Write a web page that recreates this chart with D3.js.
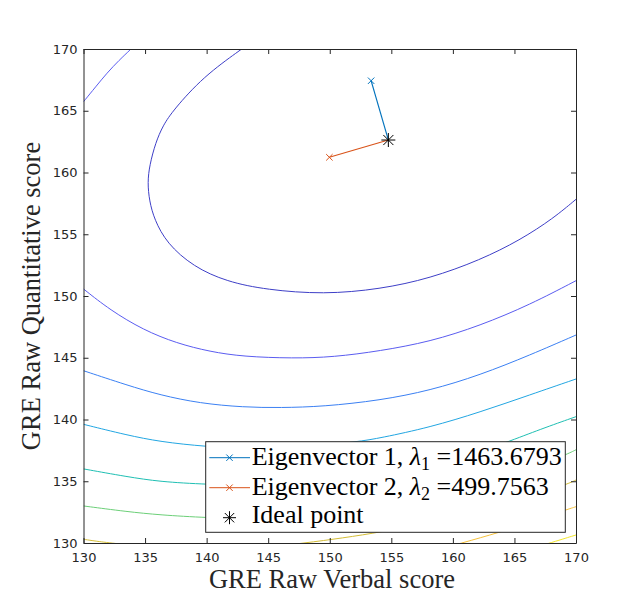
<!DOCTYPE html>
<html>
<head>
<meta charset="utf-8">
<script src="https://cdn.jsdelivr.net/npm/d3@7"></script>
<style>
body { margin: 0; background: #fff; }
</style>
</head>
<body>
<svg id="chart" width="638" height="615"></svg>
<script>
// tick values
let xTicks = [130, 135, 140, 145, 150, 155, 160, 165, 170]
let yTicks = [130, 135, 140, 145, 150, 155, 160, 165, 170]

// contour lines, [verbal, quant]
let contour1 = [[142.85,170],[139.73,167.76],[137.30,165.06],[136.45,163.8],[135.85,162.4],[135.37,160.6],[135.2,159.2],[135.35,157.7],[135.75,156.2],[136.76,154.27],[138.92,152.37],[141.63,151.16],[144.88,150.5],[149.5,150.13],[154.09,150.55],[158.15,151.43],[162.21,152.91],[165.46,154.53],[168.16,156.29],[170,157.83]]
let contour2a = [[130,165.73],[131.0,166.95],[131.9,168.05],[132.9,169.1],[133.86,170]]
let contour2b = [[130,150.57],[132.15,148.87],[134.86,147.25],[137.57,146.17],[140.28,145.49],[142.98,145.09],[147.0,144.95],[150.29,145.05],[154.09,145.55],[158.15,146.3],[162.21,147.6],[166.27,149.3],[170,151.24]]
let contour3 = [[130,143.95],[133.51,142.79],[136.21,141.98],[139.46,141.31],[142.98,140.99],[146.0,140.95],[149.5,141.05],[154.09,141.55],[158.15,142.35],[162.21,143.6],[166.27,145.22],[170,146.84]]
let contour4 = [[130,139.61],[133.51,138.74],[136.21,138.2],[139.93,137.8],[144,137.6],[148,137.75],[152.3,138.2],[154.09,138.5],[158.15,139.37],[162.21,140.6],[166.27,142.0],[170,143.28]]
let contour5 = [[130,136.0],[133.51,135.37],[136.21,134.96],[139.93,134.75],[145,134.6],[150,134.8],[155,135.4],[160,136.6],[164.51,138.2],[167.08,139.2],[170,140.23]]
let contour6 = [[130,133.0],[133.51,132.54],[136.21,132.27],[139.93,132.05],[145,131.9],[150,132.1],[155,132.7],[160,133.9],[165,135.5],[169.14,137.12],[170,137.55]]
let contour7 = [[130,130.3],[131,130.15],[132.2,130],[136,129.6],[140,129.45],[144,129.55],[148,130],[151,130.4],[154.3,130.9],[158,131.7],[162,132.6],[166,133.7],[169.14,134.7],[170,135.1]]
let contour8 = [[157.5,129.1],[160.72,130],[163.83,130.87],[166,131.6],[169.14,132.67],[170,132.94]]
let contour9 = [[164.5,129.0],[167.9,130],[170,130.65]]

let contourLines = [contour1, contour2a, contour2b, contour3, contour4, contour5, contour6, contour7, contour8, contour9]
let contourColors = ['#3e3fc7', '#5a5cf0', '#5a5cf0', '#3b80f3', '#22a6e2', '#1fbfb3', '#6ccf78', '#d4bd36', '#f6c13b', '#f3e72a']

// eigenvectors drawn from the ideal point
let idealPoint = [154.76, 162.63]
let eigEnds = [[153.36, 167.43], [149.97, 161.23]]
let eigValues = [1463.6793, 499.7563]
let eigColors = ['#0072bd', '#d95319']

let svg = d3.select('#chart')
let pLeft = 83.5, pRight = 576, pTop = 49, pBottom = 543
let axisColor = '#262626'

let x = d3.scaleLinear().domain([130, 170]).range([pLeft, pRight])
let y = d3.scaleLinear().domain([130, 170]).range([pBottom, pTop])

svg.append('defs').append('clipPath').attr('id', 'plotClip')
    .append('rect')
    .attr('x', pLeft).attr('y', pTop)
    .attr('width', pRight - pLeft).attr('height', pBottom - pTop)

let plot = svg.append('g').attr('clip-path', 'url(#plotClip)')

let line = d3.line()
    .x(d => x(d[0]))
    .y(d => y(d[1]))
    .curve(d3.curveBasis)

plot.selectAll('path.contour')
    .data(contourLines)
    .enter()
    .append('path')
    .attr('class', 'contour')
    .attr('d', line)
    .attr('fill', 'none')
    .attr('stroke', (d, i) => contourColors[i])
    .attr('stroke-width', 1)

// x marker and star marker helpers
let drawCross = (g, cx, cy, r, color) => {
    g.append('path')
        .attr('d', `M${cx - r},${cy - r}L${cx + r},${cy + r}M${cx - r},${cy + r}L${cx + r},${cy - r}`)
        .attr('stroke', color).attr('stroke-width', 1).attr('fill', 'none')
}
let drawStar = (g, cx, cy, r, color) => {
    let d = r * 0.72
    g.append('path')
        .attr('d', `M${cx - r},${cy}L${cx + r},${cy}M${cx},${cy - r}L${cx},${cy + r}` +
            `M${cx - d},${cy - d}L${cx + d},${cy + d}M${cx - d},${cy + d}L${cx + d},${cy - d}`)
        .attr('stroke', color).attr('stroke-width', 1).attr('fill', 'none')
}

eigEnds.forEach((e, i) => {
    plot.append('line')
        .attr('x1', x(idealPoint[0])).attr('y1', y(idealPoint[1]))
        .attr('x2', x(e[0])).attr('y2', y(e[1]))
        .attr('stroke', eigColors[i]).attr('stroke-width', 1.1)
    drawCross(plot, x(e[0]), y(e[1]), 3.2, eigColors[i])
})
drawStar(plot, x(idealPoint[0]), y(idealPoint[1]), 7, '#000')

// axes, ticks inward on all sides
let styleAxis = (g) => {
    g.selectAll('path, line').attr('stroke', axisColor)
    g.selectAll('text').attr('fill', axisColor)
        .style('font-family', '"DejaVu Sans", sans-serif').style('font-size', '13px')
}

svg.append('g')
    .attr('transform', `translate(0,${pBottom})`)
    .call(d3.axisBottom(x).tickValues(xTicks).tickSize(-5).tickSizeOuter(0).tickPadding(9.5))
    .call(styleAxis)
svg.append('g')
    .attr('transform', `translate(0,${pTop})`)
    .call(d3.axisTop(x).tickValues(xTicks).tickSize(-5).tickSizeOuter(0).tickFormat(''))
    .call(styleAxis)
svg.append('g')
    .attr('transform', `translate(${pLeft},0)`)
    .call(d3.axisLeft(y).tickValues(yTicks).tickSize(-5).tickSizeOuter(0).tickPadding(6))
    .call(styleAxis)
svg.append('g')
    .attr('transform', `translate(${pRight},0)`)
    .call(d3.axisRight(y).tickValues(yTicks).tickSize(-5).tickSizeOuter(0).tickFormat(''))
    .call(styleAxis)

let serif = 'Liberation Serif, DejaVu Serif, serif'

svg.append('text')
    .attr('x', 332).attr('y', 588)
    .attr('text-anchor', 'middle')
    .attr('fill', axisColor)
    .attr('font-family', serif).attr('font-size', 26.5)
    .text('GRE Raw Verbal score')

svg.append('text')
    .attr('transform', 'translate(40,296) rotate(-90)')
    .attr('text-anchor', 'middle')
    .attr('fill', axisColor)
    .attr('font-family', serif).attr('font-size', 26.5)
    .text('GRE Raw Quantitative score')

// legend
let legend = svg.append('g')
    .attr('font-family', serif).attr('font-size', 26)
legend.append('rect')
    .attr('x', 205.7).attr('y', 441.7)
    .attr('width', 359.6).attr('height', 90.6)
    .attr('fill', '#fff').attr('stroke', axisColor).attr('stroke-width', 1)

let rowY = [457.7, 487.7, 517.7]
eigValues.forEach((v, i) => {
    legend.append('line')
        .attr('x1', 209.3).attr('x2', 250)
        .attr('y1', rowY[i]).attr('y2', rowY[i])
        .attr('stroke', eigColors[i]).attr('stroke-width', 1)
    drawCross(legend, 229.5, rowY[i], 3.2, eigColors[i])

    let t = legend.append('text')
        .attr('x', 251.7).attr('y', rowY[i] + 7)
        .attr('fill', '#000')
    t.append('tspan').text('Eigenvector ' + (i + 1) + ', ')
    t.append('tspan').attr('font-style', 'italic').text('λ')
    t.append('tspan').attr('dy', 5).attr('font-size', 18).text(i + 1)
    t.append('tspan').attr('dy', -5).text(' =' + v.toFixed(4))
})
drawStar(legend, 229.5, rowY[2], 6.5, '#000')
legend.append('text')
    .attr('x', 251.7).attr('y', rowY[2] + 5)
    .attr('fill', '#000')
    .text('Ideal point')
</script>
</body>
</html>
